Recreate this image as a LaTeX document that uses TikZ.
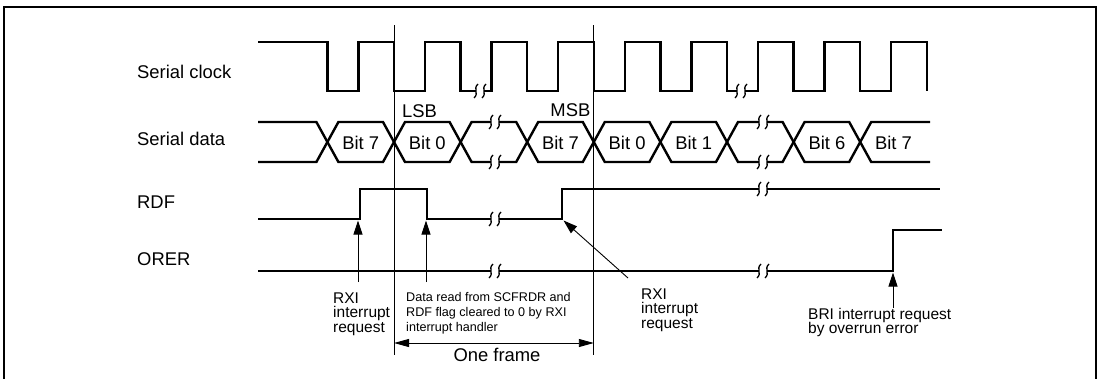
\documentclass[tikz,border=0pt]{standalone}
\usepackage{fontspec}
\setmainfont{Liberation Sans}
\usetikzlibrary{arrows.meta}

% break mark on a signal line: #1 = x, #2 = y
\newcommand{\brkmark}[2]{%
  \fill[white] ({#1-4},{#2-2}) rectangle ({#1+4},{#2+2});
  \draw[line width=1.3pt] ({#1-2},{#2-7}) .. controls ({#1-7.5},{#2-2}) and ({#1-0.5},{#2+2}) .. ({#1-6},{#2+7});
  \draw[line width=1.3pt] ({#1+6},{#2-7}) .. controls ({#1+0.5},{#2-2}) and ({#1+7.5},{#2+2}) .. ({#1+2},{#2+7});
}

\begin{document}
\begin{tikzpicture}[x=1pt, y=-1pt,
    sig/.style={line width=2.4pt},
    guide/.style={line width=0.9pt},
    pointer/.style={line width=0.9pt, -{Triangle[length=14pt, width=9pt]}},
    span/.style={line width=0.9pt, {Triangle[length=15pt, width=8pt]}-{Triangle[length=15pt, width=8pt]}},
    lbl/.style={inner sep=0pt, font=\fontsize{18.4}{20}\selectfont},
    note/.style={inner sep=0pt, align=left, anchor=north west, font=\fontsize{15.5}{14.5}\selectfont},
    small/.style={note, font=\fontsize{12.6}{14.8}\selectfont}
]
    \useasboundingbox (0,0) rectangle (1100,378);
    \draw[line width=2.2pt] (4.3,380) -- (4.3,7.2) -- (1096,7.2) -- (1096,380);

    % signal names
    \node[lbl, anchor=base west] (clk) at (137,78) {Serial clock};
    \node[lbl, anchor=base west] (dat) at (137,145) {Serial data};
    \node[lbl, anchor=base west] (rdf) at (137,208) {RDF};
    \node[lbl, anchor=base west] (orer) at (137,265) {ORER};

    % frame limits
    \draw[guide] (394,25) -- (394,355);
    \draw[guide] (593.8,25) -- (593.8,355);
    \node[lbl, anchor=base west] (lsb) at (402,117) {LSB};
    \node[lbl, anchor=base east] (msb) at (590.5,116) {MSB};

    % serial clock
    \draw[sig] (258,42) foreach \k in {0,...,8} {
        -- ({327.4+66.6*\k},42) -- ({327.4+66.6*\k},91)
        -- ({358.4+66.6*\k},91) -- ({358.4+66.6*\k},42)
    } -- (926.8,42) -- (926.8,91);

    % serial data
    \draw[sig] (258,122) foreach \j in {0,...,3} {
        -- ({316.4+133.2*\j},122) -- ({338.4+133.2*\j},162)
        -- ({383+133.2*\j},162) -- ({405+133.2*\j},122)
    } -- (849.2,122) -- (871.2,162) -- (930,162);
    \draw[sig] (258,162) foreach \j in {0,...,3} {
        -- ({316.4+133.2*\j},162) -- ({338.4+133.2*\j},122)
        -- ({383+133.2*\j},122) -- ({405+133.2*\j},162)
    } -- (849.2,162) -- (871.2,122) -- (930,122);
    \foreach \k/\b in {0/7,1/0,3/7,4/0,5/1,7/6,8/7}
        \node[lbl, anchor=base] (bit\k) at ({360.7+66.6*\k},149.5) {Bit \b};

    % RDF and ORER
    \draw[sig] (258,219) -- (360,219) -- (360,189) -- (427,189) -- (427,219)
        -- (562,219) -- (562,189) -- (940,189);
    \draw[sig] (258,271) -- (893,271) -- (893,230) -- (942,230);

    % breaks
    \foreach \x/\y in {480/91, 741/91, 495/122, 495/162, 763/122, 763/162,
                       495/219, 763/189, 495/271, 763/271}
        {\brkmark{\x}{\y}}

    % notes
    \node[note] (rxi1) at (333,292.5) {RXI\\interrupt\\request};
    \node[small] (clr) at (406,292.2) {Data read from SCFRDR and\\RDF flag cleared to 0 by RXI\\interrupt handler};
    \node[note] (rxi2) at (641,288.3) {RXI\\interrupt\\request};
    \node[note] (bri) at (808,307.7) {BRI interrupt request\\by overrun error};

    \coordinate (rxi1t) at (358,282);
    \coordinate (rxi1h) at (358,220.5);
    \coordinate (clrt) at (426,282);
    \coordinate (clrh) at (426,220.5);
    \coordinate (rxi2t) at (628,278);
    \coordinate (rxi2h) at (563.5,220.5);
    \coordinate (brit) at (893,308);
    \coordinate (brih) at (893,272.5);
    \draw[pointer] (rxi1t) -- (rxi1h);
    \draw[pointer] (clrt) -- (clrh);
    \draw[pointer] (rxi2t) -- (rxi2h);
    \draw[pointer] (brit) -- (brih);

    % one frame
    \coordinate (fra) at (394,343);
    \coordinate (frb) at (593.8,343);
    \draw[span] (fra) -- (frb);
    \node[lbl, anchor=base] (frame) at (497,361.5) {One frame};
\end{tikzpicture}
\end{document}
